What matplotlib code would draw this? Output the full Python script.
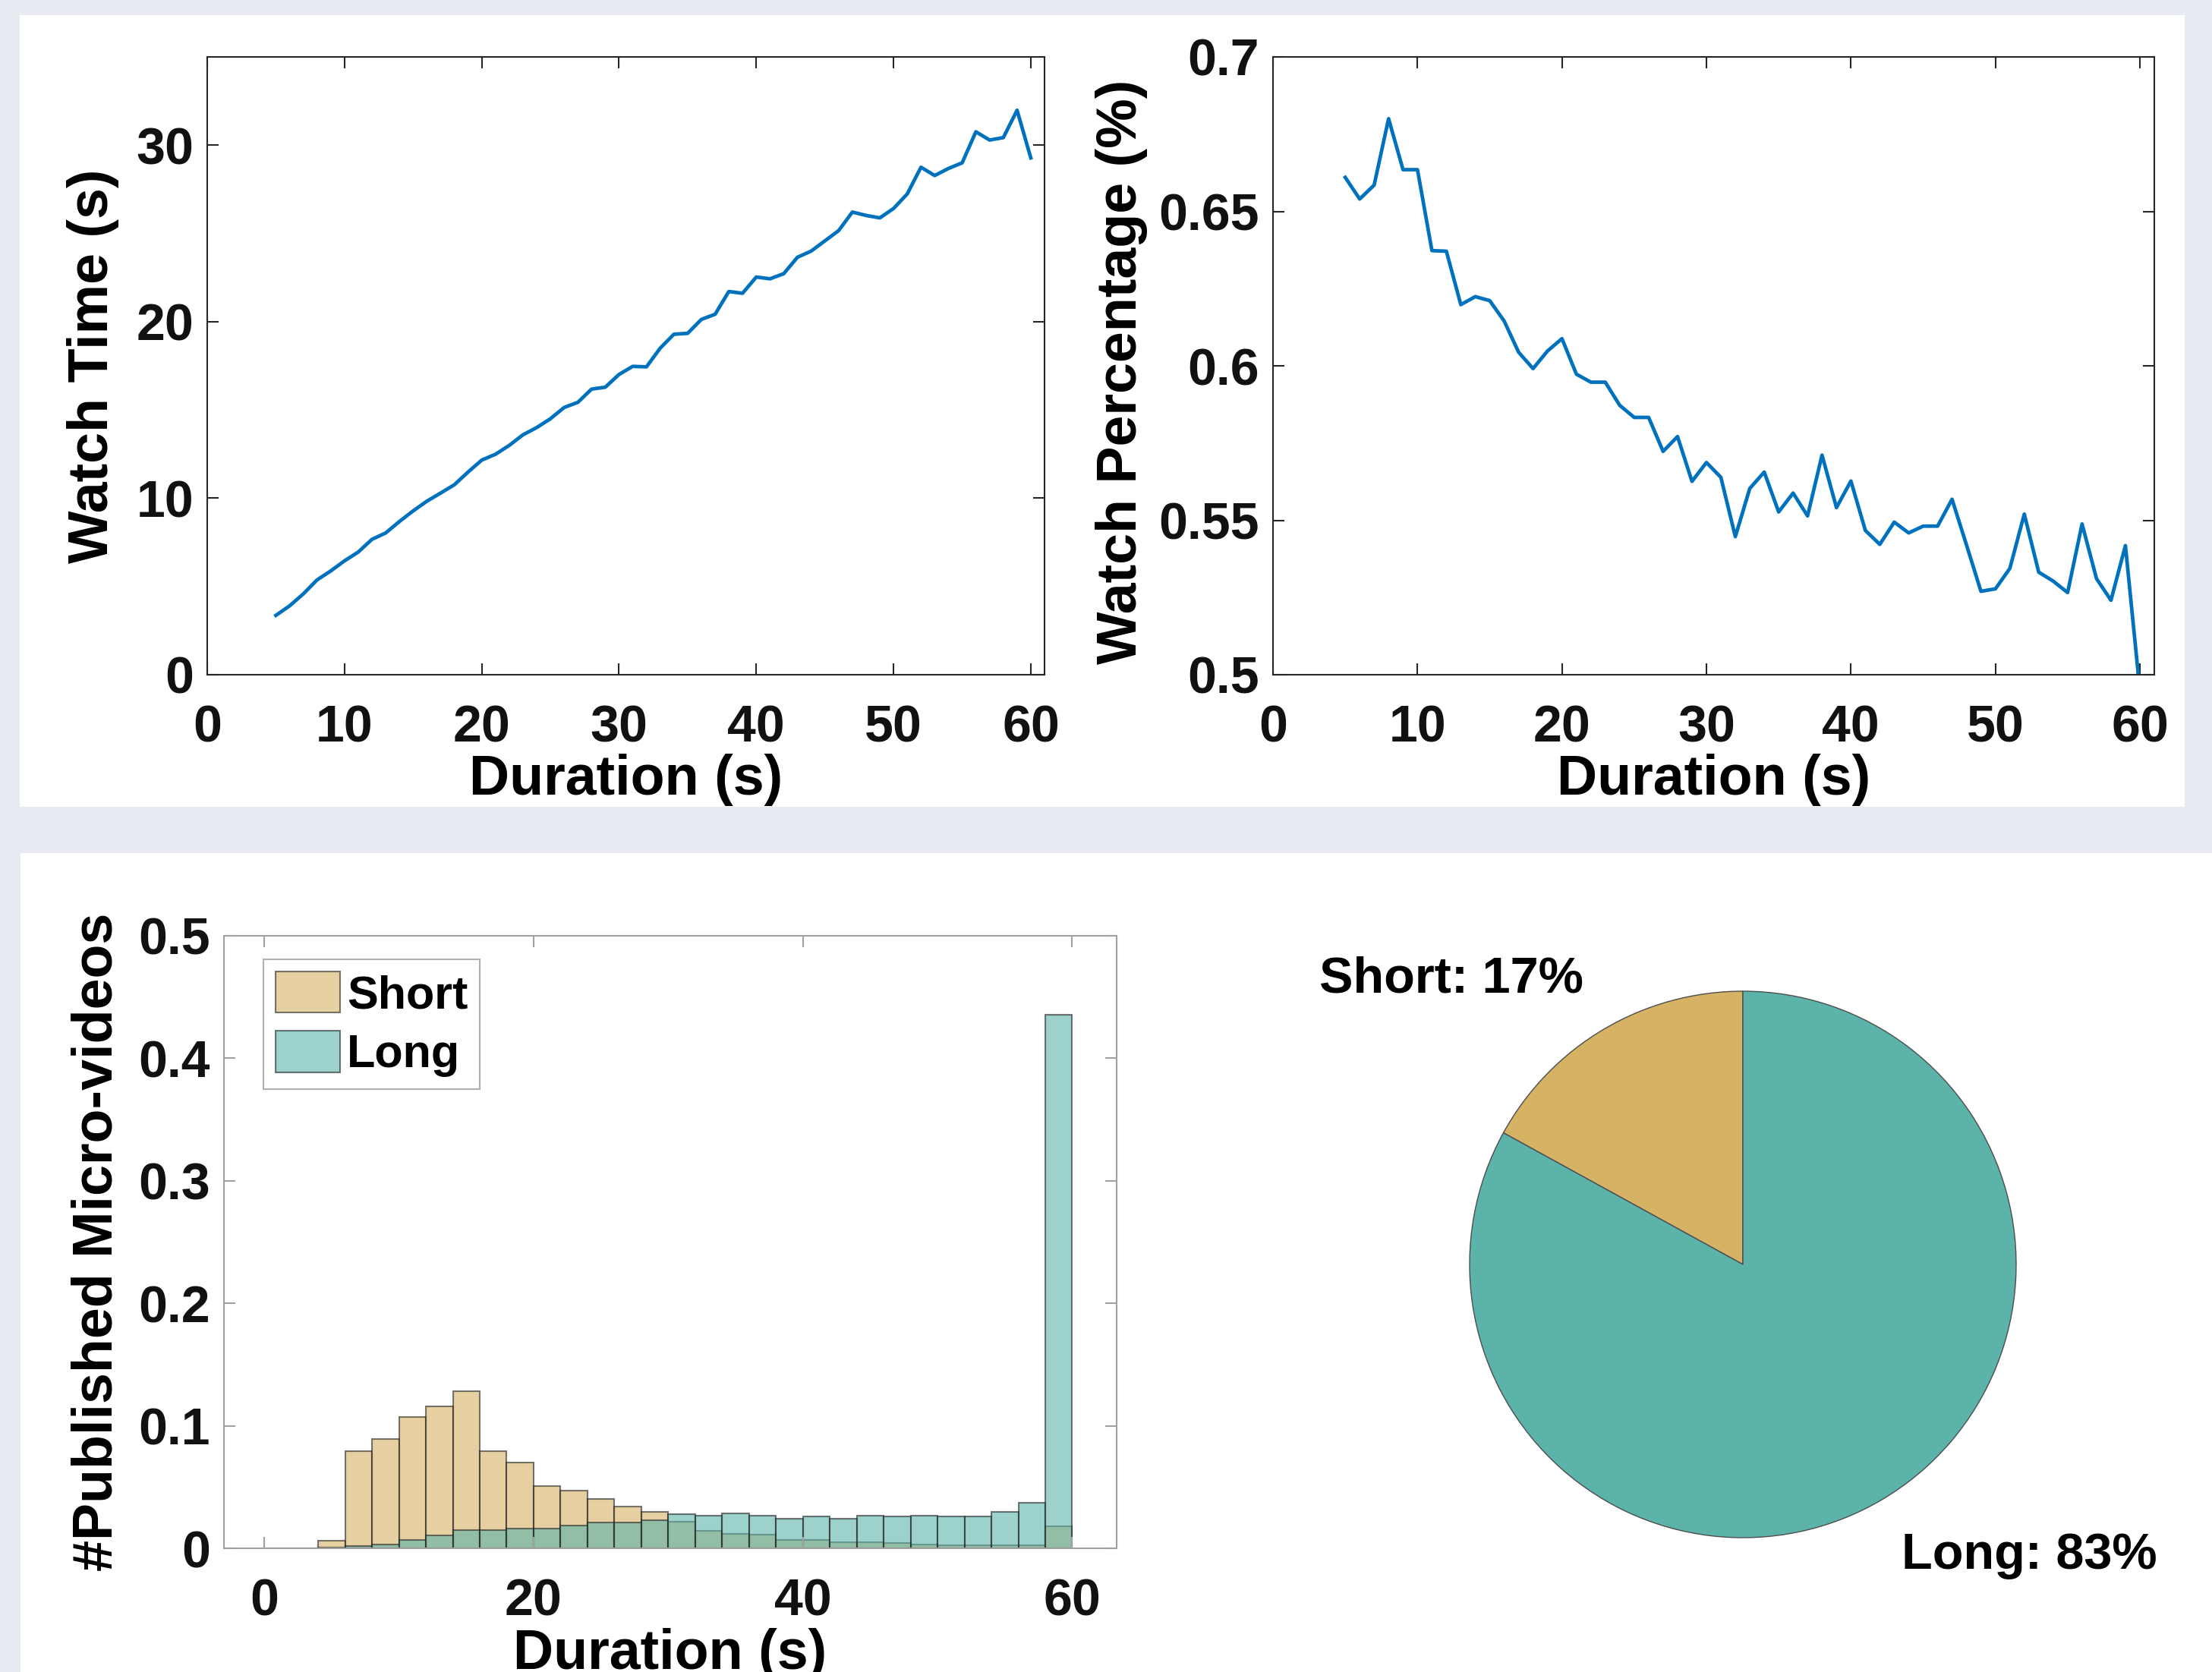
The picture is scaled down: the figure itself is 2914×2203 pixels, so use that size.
import numpy as np
import matplotlib
matplotlib.use('Agg')
import matplotlib.pyplot as plt
from matplotlib.patches import Rectangle
from matplotlib.ticker import FuncFormatter

plt.rcParams['font.family'] = ['Liberation Sans', 'DejaVu Sans']
plt.rcParams['font.weight'] = 'bold'

# ---- data ----
duration = np.arange(5, 61)

watch_time = [3.36, 3.90, 4.58, 5.37, 5.88, 6.45, 6.95, 7.67, 8.03, 8.68,
              9.28, 9.83, 10.29, 10.76, 11.48, 12.16, 12.49, 12.99, 13.59, 14.00,
              14.50, 15.14, 15.43, 16.18, 16.29, 17.01, 17.47, 17.44, 18.50, 19.29,
              19.34, 20.13, 20.42, 21.71, 21.61, 22.53, 22.43, 22.72, 23.65, 24.00,
              24.58, 25.16, 26.21, 26.02, 25.88, 26.41, 27.24, 28.75, 28.28, 28.68,
              29.00, 30.76, 30.29, 30.43, 31.98, 29.28]

watch_pct = [0.661, 0.654, 0.6585, 0.680, 0.6635, 0.6635, 0.6373, 0.6371, 0.6198, 0.6224,
             0.6211, 0.6145, 0.6044, 0.5991, 0.6048, 0.6088, 0.5973, 0.5947, 0.5947, 0.5872,
             0.5833, 0.5833, 0.5723, 0.5771, 0.5626, 0.5687, 0.5639, 0.5447, 0.5603, 0.5656,
             0.5527, 0.5588, 0.5514, 0.5711, 0.5541, 0.5627, 0.5467, 0.5422, 0.5494, 0.5459,
             0.5481, 0.5481, 0.5568, 0.5420, 0.5270, 0.5278, 0.5344, 0.5520, 0.5332, 0.5303,
             0.5266, 0.5488, 0.5311, 0.5241, 0.5418, 0.495]

# histogram, 2 s bins from 0 to 60
bin_edges = np.arange(0, 62, 2)
short_hist = [0, 0, 0.006, 0.079, 0.0895, 0.107, 0.116, 0.128, 0.079, 0.070,
              0.0505, 0.047, 0.040, 0.034, 0.030, 0.0215, 0.014, 0.0118, 0.0113, 0.0068,
              0.0068, 0.0052, 0.0047, 0.0045, 0.003, 0.0027, 0.0027, 0.0027, 0.0027, 0.018]
long_hist = [0, 0, 0.0005, 0.002, 0.0033, 0.007, 0.0107, 0.0149, 0.015, 0.0163,
             0.0163, 0.0186, 0.021, 0.021, 0.0227, 0.0276, 0.0264, 0.0285, 0.0268, 0.0241,
             0.0262, 0.0241, 0.0264, 0.0258, 0.0264, 0.0258, 0.0258, 0.030, 0.037, 0.4356]

pie_names = ['Short', 'Long']
pie_pct = [17, 83]

line_color = '#0072BD'
short_color = '#d6b264'
long_color = '#5bb3aa'

W, H = 2914, 2203
fig = plt.figure(figsize=(W / 100, H / 100), dpi=100)
fig.patch.set_facecolor('#e7eaf0')


def box(x0, y0, x1, y1):
    # pixel box (top-left origin) -> figure fraction rect
    return [x0 / W, 1 - y1 / H, (x1 - x0) / W, (y1 - y0) / H]


# white panels
for (x0, y0, x1, y1) in [(26, 20, 2878, 1063), (27, 1124, 2914, 2203)]:
    r = box(x0, y0, x1, y1)
    fig.add_artist(Rectangle((r[0], r[1]), r[2], r[3], transform=fig.transFigure,
                             facecolor='white', edgecolor='none', zorder=-5))

fmt = FuncFormatter(lambda v, p: '%g' % v)
tick_fs = 49
label_fs = 53


def style(ax, frame_color):
    for s in ax.spines.values():
        s.set_color(frame_color)
        s.set_linewidth(1.5)
    ax.tick_params(direction='in', top=True, right=True, length=11, width=1.5,
                   color=frame_color, labelsize=tick_fs, labelcolor='#111111')
    ax.tick_params(axis='x', pad=28)
    ax.tick_params(axis='y', pad=13)
    ax.xaxis.set_major_formatter(fmt)
    ax.yaxis.set_major_formatter(fmt)


# ---- watch time ----
ax1 = fig.add_axes(box(273, 75, 1376, 889))
ax1.plot(duration, watch_time, color=line_color, lw=3.4)
ax1.set_xlim(0, 61)
ax1.set_ylim(0, 35)
ax1.set_xticks(range(0, 61, 10))
ax1.set_yticks([0, 10, 20, 30])
style(ax1, '#262626')
ax1.set_xlabel('Duration (s)', fontsize=label_fs, fontweight='bold')
ax1.set_ylabel('Watch Time (s)', fontsize=label_fs, fontweight='bold')
ax1.xaxis.set_label_coords(0.5, -0.128)
ax1.yaxis.set_label_coords(-0.105, 0.5)

# ---- watch percentage ----
ax2 = fig.add_axes(box(1677, 75, 2838, 889))
ax2.plot(duration, watch_pct, color=line_color, lw=3.4)
ax2.set_xlim(0, 61)
ax2.set_ylim(0.5, 0.7)
ax2.set_xticks(range(0, 61, 10))
ax2.set_yticks([0.5, 0.55, 0.6, 0.65, 0.7])
style(ax2, '#262626')
ax2.set_xlabel('Duration (s)', fontsize=label_fs, fontweight='bold')
ax2.set_ylabel('Watch Percentage (%)', fontsize=label_fs, fontweight='bold')
ax2.xaxis.set_label_coords(0.5, -0.128)
ax2.yaxis.set_label_coords(-0.142, 0.49)

# ---- histogram ----
ax3 = fig.add_axes(box(295, 1233, 1471, 2040))
ax3.bar(bin_edges[:-1], short_hist, width=2, align='edge', color=short_color,
        edgecolor='#222222', linewidth=1.5, alpha=0.6, label='Short')
ax3.bar(bin_edges[:-1], long_hist, width=2, align='edge', color=long_color,
        edgecolor='#222222', linewidth=1.5, alpha=0.6, label='Long')
ax3.set_xlim(-3, 63.3)
ax3.set_ylim(0, 0.5)
ax3.set_xticks([0, 20, 40, 60])
ax3.set_yticks([0, 0.1, 0.2, 0.3, 0.4, 0.5])
style(ax3, '#a0a0a0')
ax3.set_xlabel('Duration (s)', fontsize=label_fs, fontweight='bold')
ax3.set_ylabel('#Published Micro-videos', fontsize=label_fs, fontweight='bold')
ax3.xaxis.set_label_coords(0.5, -0.130)
ax3.yaxis.set_label_coords(-0.113, 0.5)
leg = ax3.legend(loc='upper left', bbox_to_anchor=(0.0445, 0.961), borderaxespad=0,
                 fontsize=44, handlelength=1.4, handleheight=1.0, handletextpad=0.15,
                 labelspacing=0.28, borderpad=0.25, fancybox=False, framealpha=1)
leg.get_frame().set_edgecolor('#b0b0b0')
leg.get_frame().set_linewidth(1.5)

# ---- pie ----
axp = fig.add_axes(box(1936, 1306, 2656, 2026))
axp.pie(pie_pct, colors=[short_color, long_color], startangle=90, counterclock=True,
        wedgeprops=dict(edgecolor='#4d4d4d', linewidth=1.0))
axp.set_xlim(-1, 1)
axp.set_ylim(-1, 1)
axp.text(-0.583, 1.044, f'{pie_names[0]}: {pie_pct[0]}%', fontsize=48, fontweight='bold',
         ha='right', va='center', clip_on=False)
axp.text(0.581, -1.067, f'{pie_names[1]}: {pie_pct[1]}%', fontsize=48, fontweight='bold',
         ha='left', va='center', clip_on=False)

fig.savefig('out.png', dpi=100, facecolor=fig.get_facecolor())
